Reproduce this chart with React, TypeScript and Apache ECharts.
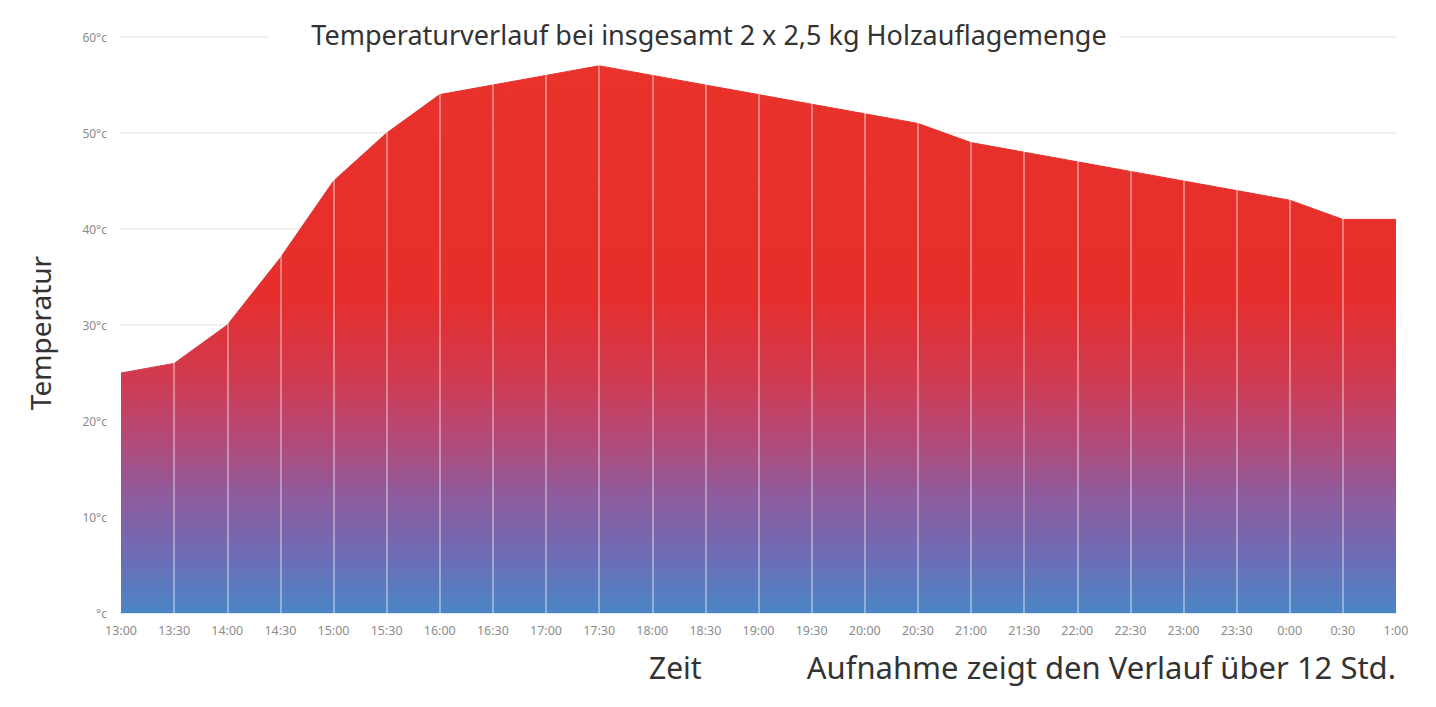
import React, { useEffect, useRef } from "react";
import * as echarts from "echarts";

const categories = [
  "13:00", "13:30", "14:00", "14:30", "15:00", "15:30", "16:00", "16:30",
  "17:00", "17:30", "18:00", "18:30", "19:00", "19:30", "20:00", "20:30",
  "21:00", "21:30", "22:00", "22:30", "23:00", "23:30", "0:00", "0:30", "1:00",
];
const temperatures = [
  25, 26, 30, 37, 45, 50, 54, 55, 56, 57, 56, 55, 54, 53, 52, 51,
  49, 48, 47, 46, 45, 44, 43, 41, 41,
];
const yTicks = [0, 10, 20, 30, 40, 50, 60];
const titleText = "Temperaturverlauf bei insgesamt 2 x 2,5 kg Holzauflagemenge";
const yName = "Temperatur";
const xName = "Zeit";
const noteText = "Aufnahme zeigt den Verlauf über 12 Std.";

const FONT = "'Noto Sans', 'Open Sans', sans-serif";

export default function App() {
  const ref = useRef<HTMLDivElement>(null);
  useEffect(() => {
    if (!ref.current) return;
    const chart = echarts.init(ref.current, null, { renderer: "svg" });
    const gradient = {
      type: "linear",
      x: 0,
      y: 67,
      x2: 0,
      y2: 613,
      global: true,
      colorStops: [
        { offset: 0, color: "#e8322a" },
        { offset: 0.42, color: "#e62e2c" },
        { offset: 0.57, color: "#d03a50" },
        { offset: 0.68, color: "#b44a78" },
        { offset: 0.79, color: "#8d5c9e" },
        { offset: 0.9, color: "#6c6db6" },
        { offset: 1, color: "#4b86c6" },
      ],
    };
    const innerCats = categories.slice(1, categories.length - 1);
    chart.setOption({
      animation: false,
      backgroundColor: "#ffffff",
      grid: { left: 121, right: 40, top: 37, bottom: 94, containLabel: false },
      xAxis: {
        type: "category",
        data: categories,
        boundaryGap: false,
        axisTick: { show: false },
        axisLine: { show: true, lineStyle: { color: "#dbe6f2", width: 2 } },
        axisLabel: { color: "#8c8c8c", fontSize: 12.5, margin: 11, fontFamily: FONT, interval: 0 },
        splitLine: { show: false },
      },
      yAxis: {
        type: "value",
        min: yTicks[0],
        max: yTicks[yTicks.length - 1],
        interval: 10,
        axisLine: { show: false },
        axisTick: { show: false },
        axisLabel: {
          color: "#8c8c8c",
          fontSize: 12,
          margin: 14,
          fontFamily: FONT,
          formatter: (v: number) => (v === 0 ? "°c" : v + "°c"),
        },
        splitLine: { show: true, lineStyle: { color: "#ebebeb", width: 1.5 } },
      },
      series: [
        {
          type: "line",
          data: temperatures,
          showSymbol: false,
          symbol: "none",
          lineStyle: { width: 1, color: gradient },
          areaStyle: { color: gradient, opacity: 1 },
          markLine: {
            silent: true,
            symbol: ["none", "none"],
            label: { show: false },
            lineStyle: { color: "rgba(255,255,255,0.5)", width: 1.5, type: "solid" },
            data: innerCats.map((c) => ({ xAxis: c })),
          },
        },
      ],
      graphic: [
        { type: "rect", z: 100, shape: { x: 268, y: 18, width: 852, height: 32 }, style: { fill: "#ffffff" } },
        {
          type: "text", z: 101, x: 709, y: 34,
          style: { text: titleText, fontSize: 27, fontFamily: FONT, fill: "#333333", textAlign: "center", textVerticalAlign: "middle" },
        },
        {
          type: "text", z: 101, x: 40, y: 333, rotation: Math.PI / 2,
          style: { text: yName, fontSize: 28, fontFamily: FONT, fill: "#333333", textAlign: "center", textVerticalAlign: "middle" },
        },
        {
          type: "text", z: 101, x: 649, y: 667,
          style: { text: xName, fontSize: 30, fontFamily: FONT, fill: "#333333", textAlign: "left", textVerticalAlign: "middle" },
        },
        {
          type: "text", z: 101, x: 1396, y: 667,
          style: { text: noteText, fontSize: 31, fontFamily: FONT, fill: "#333333", textAlign: "right", textVerticalAlign: "middle" },
        },
      ],
    });
    return () => chart.dispose();
  }, []);
  return <div ref={ref} style={{ position: "fixed", left: 0, top: 0, width: 1436, height: 707 }} />;
}
